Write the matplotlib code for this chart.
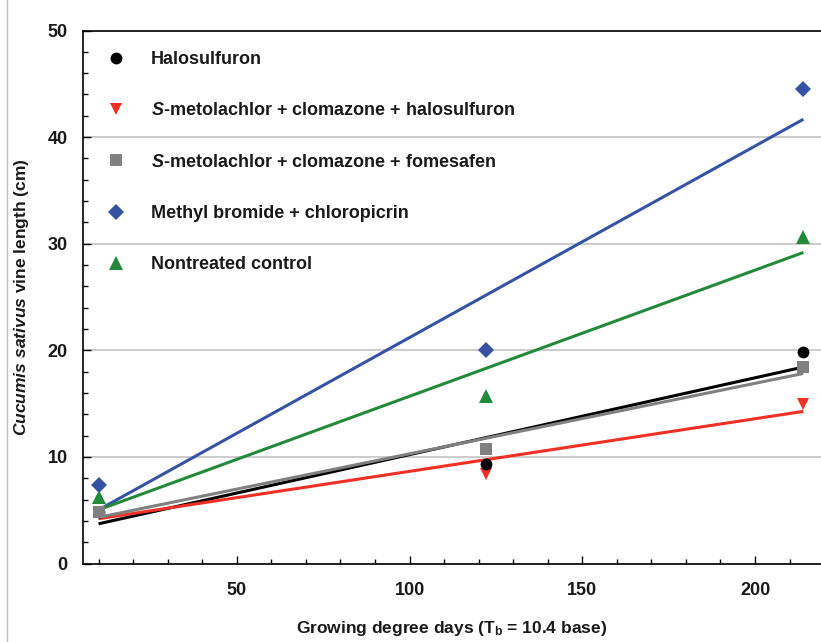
import matplotlib
matplotlib.use("Agg")
import matplotlib.pyplot as plt
import numpy as np
from matplotlib.lines import Line2D
from matplotlib.ticker import MultipleLocator

plt.rcParams["font.family"] = ["Liberation Sans", "DejaVu Sans"]
plt.rcParams["font.weight"] = "bold"
plt.rcParams["mathtext.fontset"] = "custom"
plt.rcParams["mathtext.rm"] = "Liberation Sans:bold"
plt.rcParams["mathtext.it"] = "Liberation Sans:italic:bold"
plt.rcParams["mathtext.bf"] = "Liberation Sans:bold"

# Growing degree days at each sampling date
gdd = [10, 122, 214]

# Mean vine length (cm) per treatment
halosulfuron = [4.85, 9.3, 19.8]
smet_cloma_halo = [4.8, 8.4, 15.0]
smet_cloma_fome = [4.8, 10.7, 18.4]
methyl_bromide = [7.35, 20.0, 44.5]
nontreated = [6.2, 15.7, 30.6]

labels = [
    "Halosulfuron",
    r"$\mathit{S}$-metolachlor + clomazone + halosulfuron",
    r"$\mathit{S}$-metolachlor + clomazone + fomesafen",
    "Methyl bromide + chloropicrin",
    "Nontreated control",
]
series = [halosulfuron, smet_cloma_halo, smet_cloma_fome, methyl_bromide, nontreated]
colors = ["#000000", "#ee3124", "#808080", "#3653a3", "#23893b"]
markers = ["o", "v", "s", "D", "^"]
msizes = [8.5, 9.0, 9.0, 8.5, 9.5]

fig = plt.figure(figsize=(8.21, 6.42), dpi=100)
ax = fig.add_axes([83 / 821, 78.5 / 642, 738 / 821, 533 / 642])

x = np.array(gdd, dtype=float)
xfit = np.array([x.min(), x.max()])
# least-squares regression line for each treatment
for ys, c in zip(series, colors):
    slope, icpt = np.polyfit(x, np.array(ys), 1)
    ax.plot(xfit, slope * xfit + icpt, color=c, lw=2.2, zorder=2, solid_capstyle="butt")
# treatment means on top of the lines
order = [1, 0, 2, 4, 3]
for k, i in enumerate(order):
    ax.plot(x, series[i], linestyle="none", marker=markers[i], color=colors[i],
            markersize=msizes[i], markeredgewidth=0, zorder=3 + 0.1 * k)

ax.set_xlim(5.5, 219.1)
ax.set_ylim(0, 50)
ax.xaxis.set_major_locator(MultipleLocator(50))
ax.xaxis.set_minor_locator(MultipleLocator(10))
ax.yaxis.set_major_locator(MultipleLocator(10))
ax.yaxis.set_minor_locator(MultipleLocator(2))
ax.tick_params(which="both", direction="in", colors="#000000", width=1.0)
ax.tick_params(which="major", length=6, labelsize=13)
ax.tick_params(which="minor", length=3.5)
ax.tick_params(axis="x", which="major", pad=13)
ax.tick_params(axis="y", which="major", pad=11)
ax.tick_params(top=False, right=False, which="both")
for lab in ax.get_xticklabels() + ax.get_yticklabels():
    lab.set_fontweight("bold")
    lab.set_color("#1a1a1a")

ax.spines["right"].set_visible(False)
for s in ("left", "bottom", "top"):
    ax.spines[s].set_linewidth(1.2)
ax.grid(axis="y", which="major", color="#c4c4c4", lw=1.2, zorder=0)
ax.set_axisbelow(True)

ax.set_xlabel(r"Growing degree days (T$_\mathrm{b}$ = 10.4 base)", fontsize=12.5,
              fontweight="bold", color="#1a1a1a", labelpad=15)
ax.set_ylabel(r"$\mathit{Cucumis\ sativus}$ vine length (cm)", fontsize=12.5,
              fontweight="bold", color="#1a1a1a", labelpad=12)

handles = [Line2D([], [], linestyle="none", marker=m, color=c, markersize=ms, markeredgewidth=0)
           for m, c, ms in zip(markers, colors, msizes)]
leg = ax.legend(handles, labels, loc="upper left", bbox_to_anchor=(0.015, 0.985),
                frameon=False, fontsize=13, handlelength=1.0, handletextpad=1.45,
                labelspacing=1.9, borderaxespad=0.3)
for t in leg.get_texts():
    t.set_color("#1a1a1a")

# thin frame line along the left edge of the figure
fig.add_artist(Line2D([6.5 / 821, 6.5 / 821], [0, 1], color="#bdbdbd", lw=1.0,
                      transform=fig.transFigure))

fig.savefig("out.png", dpi=100)
